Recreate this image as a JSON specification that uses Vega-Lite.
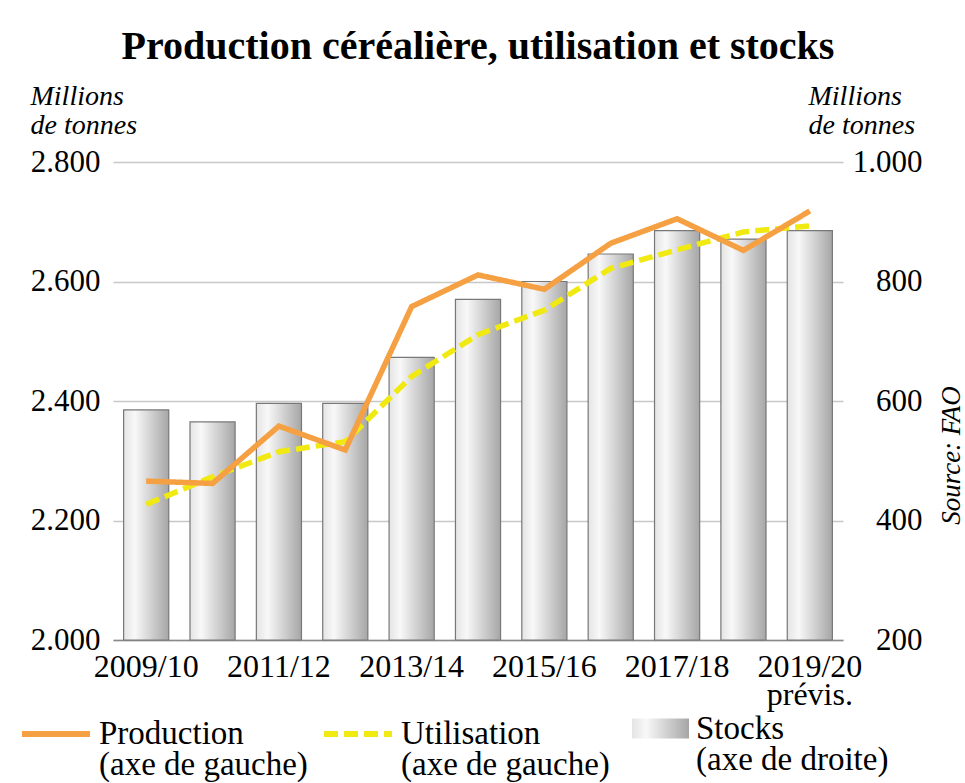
{
  "$schema": "https://vega.github.io/schema/vega-lite/v6.json",
  "width": 730,
  "height": 478,
  "autosize": {"type": "none"},
  "padding": {"left": 113, "top": 162, "right": 122, "bottom": 143},
  "background": "white",
  "title": {
    "text": "Production céréalière, utilisation et stocks",
    "font": "Liberation Serif",
    "fontSize": 40,
    "fontWeight": "bold",
    "color": "black",
    "anchor": "middle",
    "frame": "group",
    "dy": -11
  },
  "data": {
    "values": [
      {"year": "2009/10", "production": 2266, "utilisation": 2227, "stocks": 585},
      {"year": "2010/11", "production": 2262, "utilisation": 2273, "stocks": 565},
      {"year": "2011/12", "production": 2358, "utilisation": 2315, "stocks": 596},
      {"year": "2012/13", "production": 2318, "utilisation": 2332, "stocks": 596},
      {"year": "2013/14", "production": 2558, "utilisation": 2441, "stocks": 673},
      {"year": "2014/15", "production": 2611, "utilisation": 2511, "stocks": 770},
      {"year": "2015/16", "production": 2587, "utilisation": 2552, "stocks": 800},
      {"year": "2016/17", "production": 2664, "utilisation": 2622, "stocks": 846},
      {"year": "2017/18", "production": 2705, "utilisation": 2653, "stocks": 885},
      {"year": "2018/19", "production": 2652, "utilisation": 2683, "stocks": 871},
      {"year": "2019/20", "production": 2718, "utilisation": 2693, "stocks": 885}
    ]
  },
  "encoding": {
    "x": {
      "field": "year",
      "type": "nominal",
      "sort": null,
      "scale": {"paddingInner": 0.32, "paddingOuter": 0.16},
      "axis": {
        "title": null,
        "labelAngle": 0,
        "ticks": false,
        "grid": false,
        "domain": true,
        "domainColor": "#8a8a8a",
        "domainWidth": 1.5,
        "labelPadding": 11,
        "labelFont": "Liberation Serif",
        "labelFontSize": 32,
        "labelColor": "black",
        "labelLineHeight": 28,
        "labelOverlap": false,
        "labelExpr": "parseInt(substring(datum.value, 2, 4)) % 2 == 1 ? (datum.value == '2019/20' ? ['2019/20', 'prévis.'] : datum.value) : ''"
      }
    }
  },
  "layer": [
    {
      "mark": {
        "type": "bar",
        "stroke": "#787878",
        "strokeWidth": 1.2,
        "fill": {"gradient": "linear", "x1": 0, "x2": 1, "y1": 0, "y2": 0,
          "stops": [
            {"offset": 0, "color": "#e4e4e4"},
            {"offset": 0.25, "color": "#f8f8f8"},
            {"offset": 1, "color": "#a6a6a6"}
          ]}
      },
      "encoding": {
        "y": {
          "field": "stocks",
          "type": "quantitative",
          "scale": {"domain": [200, 1000], "zero": false, "nice": false},
          "axis": {
            "orient": "right",
            "values": [200, 400, 600, 800, 1000],
            "labelExpr": "replace(format(datum.value, ','), ',', '.')",
            "grid": false,
            "ticks": false,
            "domain": false,
            "labelAlign": "right",
            "labelPadding": 79,
            "labelFont": "Liberation Serif",
            "labelFontSize": 31,
            "labelColor": "black",
            "title": ["Millions", "de tonnes"],
            "titleFont": "Liberation Serif",
            "titleFontStyle": "italic",
            "titleFontWeight": "normal",
            "titleFontSize": 28,
            "titleColor": "black",
            "titleAngle": 0,
            "titleAlign": "left",
            "titleBaseline": "alphabetic",
            "titleLineHeight": 29,
            "titleX": -35,
            "titleY": -58
          }
        },
        "y2": {"datum": 200},
        "opacity": {
          "datum": "Stocks",
          "type": "ordinal",
          "scale": {"range": [1]},
          "legend": {
            "orient": "none",
            "legendX": 518,
            "legendY": 537,
            "title": null,
            "padding": 0,
            "symbolType": "M-1,-0.35H1V0.35H-1Z",
            "symbolSize": 3249,
            "symbolFillColor": "#d9d9d9",
            "symbolStrokeColor": "#808080",
            "symbolStrokeWidth": 1.5,
            "labelOffset": 6,
            "labelBaseline": "middle",
            "labelFont": "Liberation Serif",
            "labelFontSize": 33,
            "labelColor": "black",
            "labelLimit": 400,
            "labelExpr": "['Stocks', '(axe de droite)']"
          }
        }
      }
    },
    {
      "mark": {"type": "point", "opacity": 0},
      "encoding": {
        "y": {
          "field": "stocks",
          "type": "quantitative",
          "scale": {"domain": [200, 1000], "zero": false, "nice": false},
          "axis": {
            "orient": "right",
            "offset": 0,
            "labels": false,
            "ticks": false,
            "domain": false,
            "grid": false,
            "title": "Source: FAO",
            "titleFont": "Liberation Serif",
            "titleFontStyle": "italic",
            "titleFontWeight": "normal",
            "titleFontSize": 27,
            "titleColor": "black",
            "titleAngle": 270,
            "titleAlign": "center",
            "titleBaseline": "alphabetic",
            "titleX": 116,
            "titleY": 293
          }
        }
      }
    },
    {
      "transform": [{"fold": ["utilisation", "production"], "as": ["series", "value"]}],
      "mark": {"type": "line", "strokeWidth": 5.5},
      "encoding": {
        "y": {
          "field": "value",
          "type": "quantitative",
          "scale": {"domain": [2000, 2800], "zero": false, "nice": false},
          "axis": {
            "orient": "left",
            "values": [2000, 2200, 2400, 2600, 2800],
            "labelExpr": "replace(format(datum.value, ','), ',', '.')",
            "grid": true,
            "gridColor": "#c8c8c8",
            "gridWidth": 1.5,
            "ticks": false,
            "domain": false,
            "labelPadding": 13,
            "labelFont": "Liberation Serif",
            "labelFontSize": 31,
            "labelColor": "black",
            "title": ["Millions", "de tonnes"],
            "titleFont": "Liberation Serif",
            "titleFontStyle": "italic",
            "titleFontWeight": "normal",
            "titleFontSize": 28,
            "titleColor": "black",
            "titleAngle": 0,
            "titleAlign": "left",
            "titleBaseline": "alphabetic",
            "titleLineHeight": 29,
            "titleX": -83,
            "titleY": -58
          }
        },
        "stroke": {
          "field": "series",
          "type": "nominal",
          "scale": {"domain": ["production", "utilisation"], "range": ["#f5a042", "#f0e912"]},
          "legend": {
            "orient": "none",
            "legendX": -94,
            "legendY": 535,
            "direction": "horizontal",
            "title": null,
            "padding": 0,
            "symbolType": "stroke",
            "symbolSize": 4624,
            "symbolStrokeWidth": 6,
            "columnPadding": 4,
            "labelOffset": 6,
            "labelBaseline": "middle",
            "labelFont": "Liberation Serif",
            "labelFontSize": 33,
            "labelColor": "black",
            "labelLimit": 400,
            "labelExpr": "datum.label == 'production' ? ['Production', '(axe de gauche)'] : ['Utilisation', '(axe de gauche)']"
          }
        },
        "strokeDash": {
          "field": "series",
          "type": "nominal",
          "scale": {"domain": ["production", "utilisation"], "range": [[1, 0], [14, 6]]},
          "legend": {
            "orient": "none",
            "legendX": -94,
            "legendY": 535,
            "direction": "horizontal",
            "title": null,
            "padding": 0,
            "symbolType": "stroke",
            "symbolSize": 4624,
            "symbolStrokeWidth": 6,
            "columnPadding": 4,
            "labelOffset": 6,
            "labelBaseline": "middle",
            "labelFont": "Liberation Serif",
            "labelFontSize": 33,
            "labelColor": "black",
            "labelLimit": 400,
            "labelExpr": "datum.label == 'production' ? ['Production', '(axe de gauche)'] : ['Utilisation', '(axe de gauche)']"
          }
        }
      }
    }
  ],
  "resolve": {"scale": {"y": "independent"}, "axis": {"y": "independent"}},
  "config": {
    "view": {"stroke": null},
    "font": "Liberation Serif",
    "style": {"guide-label": {"lineHeight": 31}}
  }
}
